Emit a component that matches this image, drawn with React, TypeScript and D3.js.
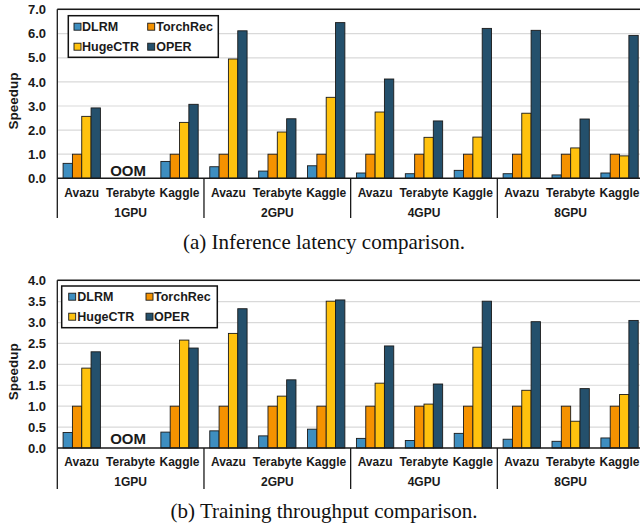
import React from "react";
import * as d3 from "d3";

const seriesNames = ["DLRM", "TorchRec", "HugeCTR", "OPER"];
const seriesColors = ["#3E8EC0", "#F59200", "#FFC20E", "#24506C"];
const gpuGroups = ["1GPU", "2GPU", "4GPU", "8GPU"];
const datasets = ["Avazu", "Terabyte", "Kaggle"];

// values per group -> dataset -> [DLRM, TorchRec, HugeCTR, OPER]; null = OOM
const inferenceValues: (number[] | null)[][] = [
  [[0.62, 1.0, 2.57, 2.92], null, [0.7, 1.0, 2.32, 3.07]],
  [[0.48, 1.0, 4.95, 6.12], [0.3, 1.0, 1.92, 2.47], [0.52, 1.0, 3.36, 6.46]],
  [[0.22, 1.0, 2.75, 4.12], [0.19, 1.0, 1.7, 2.38], [0.33, 1.0, 1.71, 6.22]],
  [[0.19, 1.0, 2.7, 6.14], [0.14, 1.0, 1.26, 2.46], [0.22, 1.0, 0.93, 5.93]],
];
const trainingValues: (number[] | null)[][] = [
  [[0.37, 1.0, 1.91, 2.3], null, [0.38, 1.0, 2.58, 2.39]],
  [[0.41, 1.0, 2.74, 3.33], [0.29, 1.0, 1.24, 1.63], [0.45, 1.0, 3.51, 3.54]],
  [[0.23, 1.0, 1.55, 2.44], [0.18, 1.0, 1.05, 1.53], [0.35, 1.0, 2.41, 3.51]],
  [[0.21, 1.0, 1.38, 3.02], [0.16, 1.0, 0.64, 1.42], [0.24, 1.0, 1.28, 3.05]],
];
const inferenceTicks = [0, 1, 2, 3, 4, 5, 6, 7];
const trainingTicks = [0, 0.5, 1, 1.5, 2, 2.5, 3, 3.5, 4];

const FONT = "'Liberation Sans', Arial, sans-serif";

type PanelProps = {
  values: (number[] | null)[][];
  ticks: number[];
  yMax: number;
  y0: number;
  yTop: number;
  frameTop: number;
  sepBottom: number;
  legend: { x0: number; y0: number; x1: number; y1: number; mx: number; tx: number; mx2: number; tx2: number; r1: number; r2: number };
  titleY: number;
  oomBottom: number;
  caption: string;
  captionY: number;
};

const X0 = 57.3;
const X1 = 644;

function Panel(p: PanelProps) {
  const y = d3.scaleLinear().domain([0, p.yMax]).range([p.y0, p.yTop]);
  const gx = d3.scaleBand<string>().domain(gpuGroups).range([X0, X1]).padding(0);
  const dx = d3.scaleBand<string>().domain(datasets).range([0, gx.bandwidth()]).padding(0);
  const sx = d3
    .scaleBand<string>()
    .domain(seriesNames)
    .range([0, dx.bandwidth()])
    .paddingInner(0)
    .paddingOuter(0.62);
  const L = p.legend;
  return (
    <g>
      {p.ticks.map((t) => (
        <g key={t}>
          {t > 0 && (
            <line x1={X0} x2={X1} y1={y(t)} y2={y(t)} stroke="#d9d9d9" strokeWidth={1.2} />
          )}
          <text
            x={46}
            y={y(t)}
            dy="0.36em"
            textAnchor="end"
            fontFamily={FONT}
            fontWeight="bold"
            fontSize={13}
            fill="#1a1a1a"
          >
            {t.toFixed(1)}
          </text>
        </g>
      ))}
      <line x1={X0} x2={X1} y1={p.frameTop} y2={p.frameTop} stroke="#1a1a1a" strokeWidth={1.5} />
      {gpuGroups.map((g, gi) =>
        datasets.map((ds, di) => {
          const vals = p.values[gi][di];
          const cx = (gx(g) as number) + (dx(ds) as number);
          return (
            <g key={g + ds}>
              {vals ? (
                vals.map((v, si) => (
                  <rect
                    key={si}
                    x={cx + (sx(seriesNames[si]) as number)}
                    y={y(v)}
                    width={sx.bandwidth()}
                    height={p.y0 - y(v)}
                    fill={seriesColors[si]}
                    stroke="#1a1a1a"
                    strokeWidth={0.9}
                  />
                ))
              ) : (
                <text
                  x={cx + dx.bandwidth() / 2 - 2.5}
                  y={p.oomBottom}
                  textAnchor="middle"
                  fontFamily={FONT}
                  fontWeight="bold"
                  fontSize={15}
                  fill="#1a1a1a"
                >
                  OOM
                </text>
              )}
              <text
                x={cx + dx.bandwidth() / 2}
                y={p.y0 + 18.2}
                textAnchor="middle"
                fontFamily={FONT}
                fontWeight="bold"
                fontSize={12}
                fill="#1a1a1a"
              >
                {ds}
              </text>
            </g>
          );
        })
      )}
      {gpuGroups.map((g) => (
        <text
          key={g}
          x={(gx(g) as number) + gx.bandwidth() / 2}
          y={p.y0 + 38.4}
          textAnchor="middle"
          fontFamily={FONT}
          fontWeight="bold"
          fontSize={12}
          fill="#1a1a1a"
        >
          {g}
        </text>
      ))}
      {/* baseline */}
      <line x1={X0} x2={X1} y1={p.y0} y2={p.y0} stroke="#1a1a1a" strokeWidth={1.5} />
      {/* left axis */}
      <line x1={X0} x2={X0} y1={p.frameTop} y2={p.sepBottom} stroke="#1a1a1a" strokeWidth={1.3} />
      {gpuGroups.slice(1).map((g) => (
        <line
          key={g}
          x1={gx(g) as number}
          x2={gx(g) as number}
          y1={p.y0}
          y2={p.sepBottom}
          stroke="#1a1a1a"
          strokeWidth={1.3}
        />
      ))}
      {/* legend */}
      <rect x={L.x0} y={L.y0} width={L.x1 - L.x0} height={L.y1 - L.y0} fill="#fff" stroke="#111" strokeWidth={1.5} />
      {seriesNames.map((s, i) => {
        const col = i % 2;
        const row = Math.floor(i / 2);
        const mx = col === 0 ? L.mx : L.mx2;
        const tx = col === 0 ? L.tx : L.tx2;
        const cy = row === 0 ? L.r1 : L.r2;
        return (
          <g key={s}>
            <rect x={mx} y={cy - 3.5} width={7} height={7} fill={seriesColors[i]} stroke="#1a1a1a" strokeWidth={0.9} />
            <text x={tx} y={cy} dy="0.36em" fontFamily={FONT} fontWeight="bold" fontSize={12.5} fill="#1a1a1a">
              {s}
            </text>
          </g>
        );
      })}
      <text
        transform={`translate(13.5,${p.titleY}) rotate(-90)`}
        textAnchor="middle"
        dy="0.35em"
        fontFamily={FONT}
        fontWeight="bold"
        fontSize={13.5}
        fill="#1a1a1a"
      >
        Speedup
      </text>
      <text
        x={324}
        y={p.captionY}
        textAnchor="middle"
        fontFamily="'Liberation Serif', 'Times New Roman', serif"
        fontSize={21}
        fill="#111"
      >
        {p.caption}
      </text>
    </g>
  );
}

export default function App() {
  return (
    <svg
      width={640}
      height={529}
      style={{ position: "absolute", left: 0, top: 0, background: "#fff" }}
    >
      <rect width={640} height={529} fill="#fff" />
      <Panel
        values={inferenceValues}
        ticks={inferenceTicks}
        yMax={7}
        y0={178.3}
        yTop={9.6}
        frameTop={9.3}
        sepBottom={218}
        legend={{ x0: 68.3, y0: 15.7, x1: 218.3, y1: 57.3, mx: 74, tx: 82, mx2: 147.7, tx2: 156.2, r1: 26.7, r2: 46.7 }}
        titleY={101}
        oomBottom={175.5}
        caption="(a) Inference latency comparison."
        captionY={248.5}
      />
      <Panel
        values={trainingValues}
        ticks={trainingTicks}
        yMax={4}
        y0={448}
        yTop={280.7}
        frameTop={280.3}
        sepBottom={489}
        legend={{ x0: 61.7, y0: 286, x1: 217.3, y1: 327.7, mx: 68.7, tx: 77.3, mx2: 146, tx2: 154, r1: 296.7, r2: 316.7 }}
        titleY={371.7}
        oomBottom={444.3}
        caption="(b) Training throughput comparison."
        captionY={517.5}
      />
    </svg>
  );
}
